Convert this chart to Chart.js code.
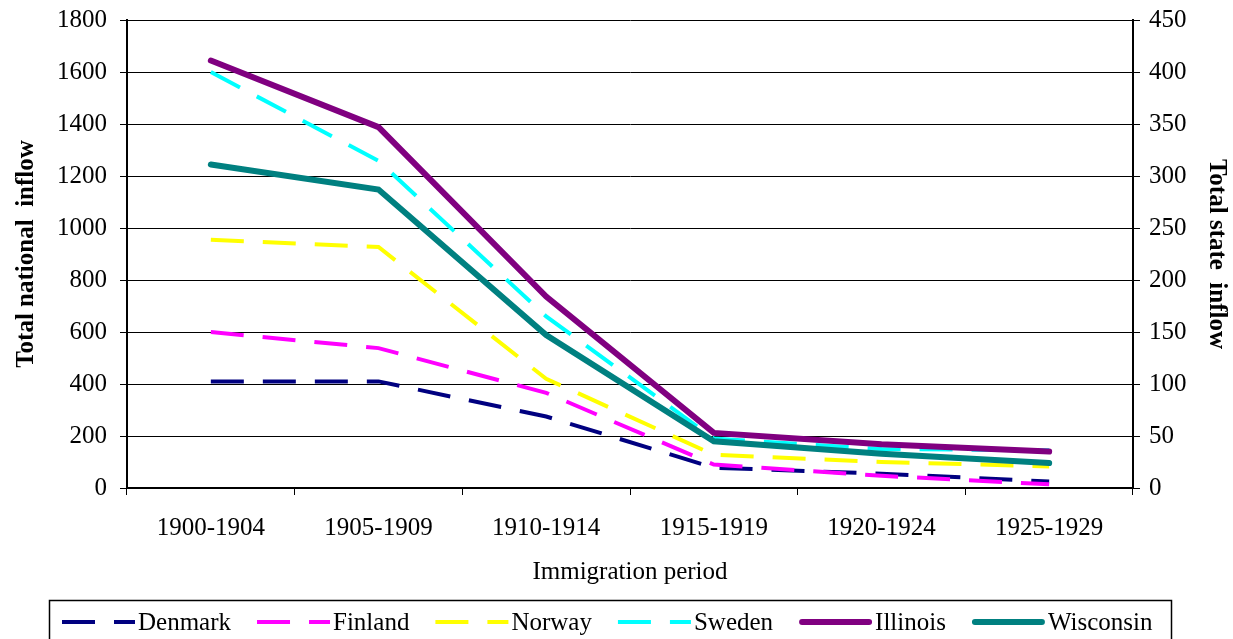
<!DOCTYPE html>
<html>
<head>
<meta charset="utf-8">
<script src="https://cdn.jsdelivr.net/npm/chart.js@4/dist/chart.umd.min.js"></script>
<style>
  html, body { margin: 0; padding: 0; background: #fff; }
  #wrap { width: 1233px; height: 639px; }
</style>
</head>
<body>
<div id="wrap"><canvas id="chart"></canvas></div>
<script>
const periods = ['1900-1904', '1905-1909', '1910-1914', '1915-1919', '1920-1924', '1925-1929'];

// national inflow (left axis)
const denmark = [410, 410, 275, 78, 55, 25];
const finland = [600, 538, 366, 90, 47, 14];
const norway = [955, 927, 420, 128, 100, 83];
const sweden = [1600, 1258, 660, 190, 150, 145];

// state inflow (right axis)
const illinois = [411, 347, 184, 53, 42, 35];
const wisconsin = [311, 287, 147, 45, 33, 24];

const serif = '"Liberation Serif", "Times New Roman", serif';
const dash = [33, 19];

// legend drawn inside a framed box under the axis title
const boxLegend = {
  id: 'boxLegend',
  afterDraw(chart) {
    const ctx = chart.ctx;
    ctx.save();
    ctx.strokeStyle = '#000';
    ctx.lineWidth = 1.5;
    ctx.strokeRect(49.5, 600.5, 1122, 60);
    ctx.font = '25px ' + serif;
    ctx.textBaseline = 'middle';
    const y = 622;
    let x = 62;
    chart.data.datasets.forEach(ds => {
      ctx.strokeStyle = ds.borderColor;
      ctx.lineWidth = ds.borderWidth;
      if (ds.borderDash) {
        ctx.setLineDash(dash);
        ctx.lineCap = 'butt';
        ctx.beginPath();
        ctx.moveTo(x, y);
        ctx.lineTo(x + 73, y);
        ctx.stroke();
      } else {
        ctx.setLineDash([]);
        ctx.lineCap = 'round';
        ctx.beginPath();
        ctx.moveTo(x + 3, y);
        ctx.lineTo(x + 70, y);
        ctx.stroke();
      }
      ctx.fillStyle = '#000';
      ctx.fillText(ds.label, x + 76, y + 1);
      x += 76 + ctx.measureText(ds.label).width + 26;
    });
    ctx.restore();
  }
};

function line(label, data, color, axis, dashed, order) {
  return {
    label: label,
    data: data,
    borderColor: color,
    backgroundColor: color,
    borderWidth: dashed ? 4 : 6,
    borderDash: dashed ? dash : undefined,
    borderCapStyle: dashed ? 'butt' : 'round',
    borderJoinStyle: 'miter',
    pointRadius: 0,
    tension: 0,
    fill: false,
    yAxisID: axis,
    order: order
  };
}

const plain = v => String(v);

// fixed axis widths, no extra label padding above/below the plot
function fixWidth(w) {
  return scale => {
    scale.width = w;
    scale.paddingTop = 0;
    scale.paddingBottom = 0;
  };
}

new Chart(document.getElementById('chart'), {
  type: 'line',
  data: {
    labels: periods,
    datasets: [
      line('Denmark', denmark, '#000080', 'yNat', true, 5),
      line('Finland', finland, '#FF00FF', 'yNat', true, 4),
      line('Norway', norway, '#FFFF00', 'yNat', true, 3),
      line('Sweden', sweden, '#00FFFF', 'yNat', true, 2),
      line('Illinois', illinois, '#800080', 'yState', false, 0),
      line('Wisconsin', wisconsin, '#008080', 'yState', false, 1)
    ]
  },
  options: {
    responsive: true,
    maintainAspectRatio: false,
    animation: false,
    devicePixelRatio: 1,
    layout: { padding: { top: 20, bottom: 52, left: 0, right: 0 } },
    plugins: {
      legend: { display: false },
      tooltip: { enabled: false }
    },
    scales: {
      x: {
        offset: true,
        grid: { offset: true, drawOnChartArea: false, drawTicks: true, tickLength: 7, color: '#000', tickColor: '#000' },
        border: { color: '#000', width: 2 },
        ticks: { color: '#000', font: { family: serif, size: 25 }, padding: 18, maxRotation: 0 },
        title: { display: true, text: 'Immigration period', color: '#000', font: { family: serif, size: 25 }, padding: { top: 0, bottom: 0 } },
        afterFit(scale) { scale.height = 99; }
      },
      yNat: {
        position: 'left',
        min: 0,
        max: 1800,
        ticks: { stepSize: 200, color: '#000', font: { family: serif, size: 25 }, padding: 13, callback: plain },
        grid: { color: '#000', tickColor: '#000', tickLength: 7, lineWidth: 1 },
        border: { color: '#000', width: 2 },
        title: { display: true, text: 'Total national  inflow', color: '#000', font: { family: serif, size: 25, weight: 'bold' }, padding: { top: 12, bottom: 0 } },
        afterFit: fixWidth(127)
      },
      yState: {
        position: 'right',
        min: 0,
        max: 450,
        ticks: { stepSize: 50, color: '#000', font: { family: serif, size: 25 }, padding: 9, callback: plain },
        grid: { drawOnChartArea: false, color: '#000', tickColor: '#000', tickLength: 7 },
        border: { color: '#000', width: 2 },
        title: { display: true, text: 'Total state  inflow', color: '#000', font: { family: serif, size: 25, weight: 'bold' }, padding: { top: 2, bottom: 0 } },
        afterFit: fixWidth(100)
      }
    }
  },
  plugins: [boxLegend]
});
</script>
</body>
</html>
